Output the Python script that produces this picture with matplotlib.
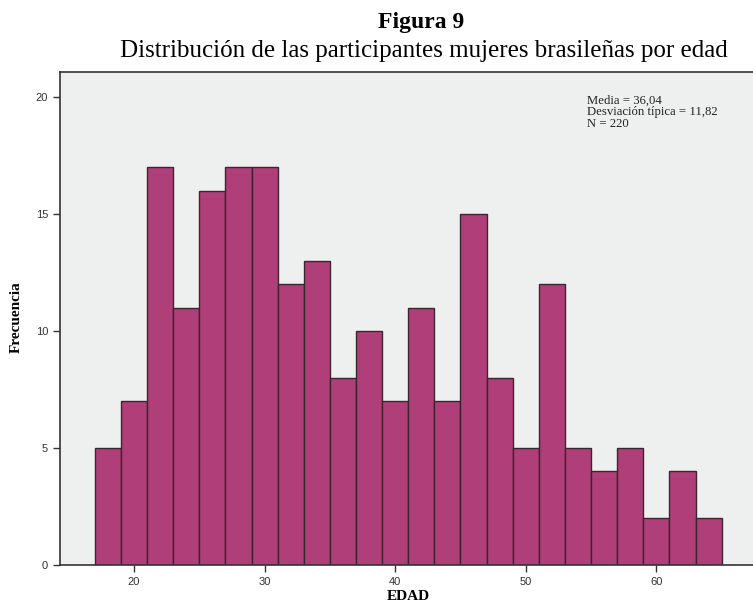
import matplotlib
matplotlib.use("Agg")
import matplotlib.pyplot as plt
import numpy as np

bin_start = 17
bin_width = 2
counts = [5, 7, 17, 11, 16, 17, 17, 12, 13, 8, 10, 7, 11, 7, 15, 8, 5, 12, 5, 4, 5, 2, 4, 2]
x_ticks = [20, 30, 40, 50, 60]
y_ticks = [0, 5, 10, 15, 20]
stats_text = ["Media = 36,04", "Desviación típica = 11,82", "N = 220"]

edges = bin_start + bin_width * np.arange(len(counts))

W, H = 753, 606
fig = plt.figure(figsize=(W/100, H/100), dpi=100)
ax = fig.add_axes([60/W, 1-565/H, 1-60/W, (565-72.3)/H])
ax.set_facecolor("#EEF0EF")
ax.bar(edges, counts, width=bin_width, align="edge", color="#B03E78",
       edgecolor="#3A2530", linewidth=1.0)
ax.set_xlim(14.33, 67.4)
ax.set_ylim(0, 21.06)
ax.set_xticks(x_ticks)
ax.set_yticks(y_ticks)
for s in ["left", "bottom", "top"]:
    ax.spines[s].set_color("#333333")
    ax.spines[s].set_linewidth(1.2)
ax.spines["right"].set_visible(False)
ax.tick_params(axis="both", labelsize=8, colors="#333333", width=1.0, length=5,
               labelcolor="#333333")
for lab in ax.get_xticklabels() + ax.get_yticklabels():
    lab.set_family("Liberation Sans")

fig.text(408.5/W, 1-597/H, "EDAD", family="Liberation Serif", fontweight="bold",
         fontsize=11, ha="center", va="center")
fig.text(16.5/W, 1-317/H, "Frecuencia", family="Liberation Serif", fontweight="bold",
         fontsize=11, ha="center", va="center", rotation=90)

for i, line in enumerate(stats_text):
    fig.text(587/W, 1-(104 + 11.5*i)/H, line, family="Liberation Serif",
             fontsize=9.2, va="baseline", ha="left", color="#222222")

fig.text(421.5/W, 1-28/H, "Figura 9", family="Liberation Serif", fontweight="bold",
         fontsize=17, ha="center", va="baseline")
fig.text(424/W, 1-57/H, "Distribución de las participantes mujeres brasileñas por edad",
         family="Liberation Serif", fontsize=18, ha="center", va="baseline")

fig.savefig("out.png", dpi=100)
